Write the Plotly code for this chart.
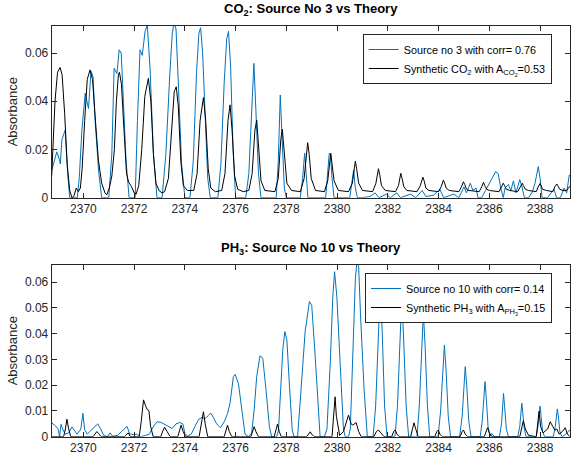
import plotly.graph_objects as go

# ---------------- data ----------------
x_ticks = [2370, 2372, 2374, 2376, 2378, 2380, 2382, 2384, 2386, 2388]
x_range = [2368.75, 2389.18]
top_yticks = [0, 0.02, 0.04, 0.06]
top_yticktext = ["0", "0.02", "0.04", "0.06"]
bot_yticks = [0, 0.01, 0.02, 0.03, 0.04, 0.05, 0.06]
bot_yticktext = ["0", "0.01", "0.02", "0.03", "0.04", "0.05", "0.06"]

co2_src = [(2368.75,0.0112),(2368.95,0.019),(2369.05,0.016),(2369.09,0.014),(2369.15,0.024),(2369.28,0.028),
 (2369.38,0.010),(2369.46,0.0),(2369.76,0.0),(2369.84,0.0087),(2369.94,0.028),(2370.07,0.0433),(2370.2,0.037),
 (2370.3,0.0525),(2370.38,0.05),(2370.46,0.032),(2370.6,0.011),(2370.72,0.0),(2371.0,0.0),(2371.12,0.0184),
 (2371.21,0.0537),(2371.32,0.0515),(2371.41,0.0613),(2371.49,0.060),(2371.58,0.039),(2371.68,0.0156),(2371.8,0.0),
 (2372.04,0.0),(2372.13,0.032),(2372.23,0.0613),(2372.32,0.059),(2372.43,0.069),(2372.52,0.0715),(2372.63,0.053),
 (2372.76,0.018),(2372.9,0.0),(2373.1,0.0),(2373.25,0.018),(2373.4,0.05),(2373.5,0.068),(2373.57,0.0725),
 (2373.65,0.070),(2373.75,0.045),(2373.87,0.014),(2374.0,0.0),(2374.2,0.0),(2374.33,0.015),(2374.46,0.052),
 (2374.55,0.068),(2374.62,0.0705),(2374.7,0.06),(2374.8,0.03),(2374.9,0.008),(2375.0,0.0),(2375.3,0.0),
 (2375.42,0.014),(2375.55,0.048),(2375.65,0.066),(2375.72,0.069),(2375.8,0.055),(2375.9,0.02),(2376.0,0.0),
 (2376.4,0.0),(2376.52,0.01),(2376.63,0.032),(2376.72,0.0557),(2376.8,0.036),(2376.9,0.01),(2377.0,0.0),
 (2377.6,0.0),(2377.68,0.015),(2377.76,0.0426),(2377.83,0.025),(2377.92,0.004),(2378.0,0.0),(2378.55,0.0),
 (2378.64,0.008),(2378.72,0.0184),(2378.78,0.01),(2378.85,0.0),(2379.55,0.0),(2379.63,0.01),(2379.69,0.0184),
 (2379.74,0.018),(2379.8,0.008),(2379.88,0.0),(2380.5,0.0),(2380.59,0.007),(2380.65,0.0115),(2380.72,0.004),
 (2380.8,0.0),(2381.0,0.0),(2381.3,0.0005),(2381.5,0.002),(2381.65,0.0),(2381.95,0.0015),(2382.1,0.0),
 (2382.35,0.002),(2382.5,0.0),(2382.9,0.0015),(2383.1,0.0),(2383.35,0.003),(2383.5,0.0005),(2383.8,0.001),
 (2384.05,0.0035),(2384.2,0.0),(2384.6,0.0015),(2384.8,0.0),(2385.0,0.0045),(2385.1,0.002),(2385.25,0.006),
 (2385.35,0.003),(2385.48,0.004),(2385.55,0.0),(2385.7,0.0),(2385.85,0.003),(2386.0,0.006),(2386.15,0.009),
 (2386.25,0.0108),(2386.35,0.010),(2386.45,0.004),(2386.55,0.0),(2386.62,0.004),(2386.75,0.0055),(2386.85,0.003),
 (2386.95,0.007),(2387.05,0.002),(2387.2,0.0075),(2387.3,0.004),(2387.38,0.0),(2387.55,0.0),(2387.7,0.0025),
 (2387.8,0.006),(2387.93,0.0129),(2388.0,0.008),(2388.08,0.0),(2388.3,0.0),(2388.4,0.0015),(2388.55,0.0035),
 (2388.65,0.0),(2388.8,0.0),(2388.95,0.004),(2389.05,0.002),(2389.15,0.0094),(2389.2,0.009)]

co2_syn = [(2368.75,0.009),(2368.82,0.025),(2368.88,0.04),(2368.98,0.052),(2369.08,0.054),(2369.16,0.051),
 (2369.26,0.035),(2369.36,0.014),(2369.46,0.003),(2369.55,0.0),(2369.62,0.0005),(2369.72,0.004),(2369.8,0.0025),
 (2369.88,0.004),(2369.95,0.012),(2370.05,0.032),(2370.15,0.049),(2370.26,0.053),(2370.36,0.049),(2370.46,0.034),
 (2370.59,0.0156),(2370.72,0.006),(2370.85,0.002),(2370.92,0.0012),(2371.02,0.004),(2371.12,0.009),(2371.22,0.02),
 (2371.3,0.04),(2371.38,0.051),(2371.42,0.052),(2371.5,0.047),(2371.6,0.028),(2371.7,0.01),(2371.78,0.0065),
 (2371.9,0.0045),(2372.0,0.002),(2372.08,0.0015),(2372.18,0.005),(2372.3,0.02),(2372.42,0.042),(2372.56,0.0495),
 (2372.66,0.04),(2372.76,0.018),(2372.86,0.006),(2372.98,0.003),(2373.1,0.002),(2373.2,0.0025),(2373.35,0.008),
 (2373.47,0.028),(2373.58,0.044),(2373.66,0.046),(2373.74,0.038),(2373.84,0.015),(2373.94,0.005),(2374.1,0.003),
 (2374.35,0.003),(2374.48,0.01),(2374.6,0.032),(2374.73,0.0415),(2374.82,0.032),(2374.92,0.012),(2375.02,0.004),
 (2375.2,0.0025),(2375.45,0.003),(2375.58,0.01),(2375.7,0.032),(2375.78,0.0385),(2375.86,0.028),(2375.96,0.009),
 (2376.08,0.0035),(2376.3,0.0025),(2376.52,0.003),(2376.65,0.01),(2376.76,0.028),(2376.83,0.0322),(2376.9,0.022),
 (2377.0,0.007),(2377.15,0.003),(2377.55,0.0025),(2377.68,0.008),(2377.78,0.024),(2377.84,0.0284),(2377.92,0.017),
 (2378.02,0.006),(2378.2,0.003),(2378.55,0.0025),(2378.7,0.008),(2378.78,0.018),(2378.84,0.0228),(2378.9,0.018),
 (2378.98,0.008),(2379.15,0.003),(2379.5,0.0025),(2379.63,0.007),(2379.7,0.014),(2379.75,0.0184),(2379.8,0.014),
 (2379.88,0.007),(2380.05,0.003),(2380.45,0.0025),(2380.6,0.006),(2380.67,0.012),(2380.72,0.0152),(2380.77,0.012),
 (2380.85,0.006),(2381.0,0.003),(2381.4,0.0025),(2381.53,0.006),(2381.59,0.010),(2381.63,0.012),(2381.68,0.0095),
 (2381.75,0.005),(2381.9,0.003),(2382.3,0.0025),(2382.42,0.005),(2382.47,0.0085),(2382.51,0.0101),(2382.56,0.008),
 (2382.63,0.0045),(2382.75,0.003),(2383.15,0.0025),(2383.28,0.005),(2383.34,0.0075),(2383.38,0.0085),(2383.43,0.007),
 (2383.5,0.004),(2383.62,0.003),(2384.0,0.0025),(2384.1,0.0045),(2384.15,0.0065),(2384.19,0.0073),(2384.24,0.006),
 (2384.3,0.004),(2384.42,0.003),(2384.8,0.0025),(2384.9,0.0045),(2384.94,0.006),(2384.98,0.0066),(2385.03,0.0055),
 (2385.1,0.0035),(2385.2,0.003),(2385.6,0.0025),(2385.7,0.0045),(2385.74,0.0058),(2385.77,0.0064),(2385.82,0.005),
 (2385.9,0.0035),(2386.0,0.003),(2386.38,0.0025),(2386.48,0.0045),(2386.52,0.0055),(2386.55,0.006),(2386.6,0.005),
 (2386.67,0.0035),(2386.8,0.003),(2387.12,0.0025),(2387.22,0.0045),(2387.26,0.0055),(2387.3,0.006),(2387.34,0.005),
 (2387.42,0.0035),(2387.55,0.003),(2387.85,0.0025),(2387.93,0.0045),(2387.97,0.0055),(2388.0,0.0059),(2388.04,0.005),
 (2388.1,0.0035),(2388.25,0.003),(2388.5,0.0025),(2388.58,0.0045),(2388.62,0.0052),(2388.66,0.0057),(2388.7,0.005),
 (2388.77,0.0035),(2388.9,0.003),(2389.05,0.003),(2389.12,0.004),(2389.2,0.005)]

ph3_src = [(2368.75,0.0054),(2368.9,0.0042),(2369.0,0.003),(2369.06,0.0),(2369.12,0.0048),(2369.18,0.003),
 (2369.28,0.001),(2369.42,0.0015),(2369.55,0.0038),(2369.65,0.0022),(2369.75,0.001),(2369.9,0.003),(2369.98,0.0091),
 (2370.05,0.0027),(2370.15,0.001),(2370.3,0.0025),(2370.45,0.004),(2370.57,0.005),(2370.68,0.003),(2370.8,0.0005),
 (2370.95,0.0),(2371.05,0.0015),(2371.15,0.0002),(2371.35,0.0005),(2371.5,0.002),(2371.65,0.0035),(2371.72,0.004),
 (2371.82,0.0012),(2371.95,0.0008),(2372.1,0.001),(2372.25,0.0),(2372.45,0.0005),(2372.6,0.001),(2372.75,0.0038),
 (2372.9,0.0058),(2373.05,0.0056),(2373.2,0.0048),(2373.35,0.004),(2373.5,0.0032),(2373.65,0.005),(2373.8,0.0055),
 (2373.92,0.005),(2374.0,0.0012),(2374.1,0.0002),(2374.25,0.001),(2374.4,0.004),(2374.55,0.0068),(2374.68,0.0075),
 (2374.8,0.007),(2374.92,0.0082),(2375.02,0.0092),(2375.12,0.0075),(2375.25,0.005),(2375.4,0.0035),(2375.55,0.0058),
 (2375.68,0.009),(2375.78,0.013),(2375.91,0.0233),(2375.98,0.0242),(2376.11,0.0207),(2376.24,0.0104),(2376.37,0.001),
 (2376.5,0.0),(2376.63,0.0014),(2376.73,0.0104),(2376.83,0.0233),(2376.96,0.0314),(2377.07,0.0305),(2377.2,0.018),
 (2377.33,0.004),(2377.42,0.0),(2377.62,0.0),(2377.69,0.0026),(2377.78,0.018),(2377.86,0.034),(2377.94,0.0408),
 (2378.02,0.0376),(2378.12,0.02),(2378.23,0.0026),(2378.3,0.0),(2378.44,0.0),(2378.54,0.013),(2378.74,0.0408),
 (2378.91,0.0525),(2379.0,0.051),(2379.13,0.0321),(2379.26,0.0078),(2379.33,0.0),(2379.5,0.0),(2379.6,0.003),
 (2379.73,0.0285),(2379.83,0.0544),(2379.9,0.0641),(2379.99,0.0544),(2380.12,0.0285),(2380.25,0.003),(2380.32,0.0),
 (2380.45,0.0),(2380.52,0.003),(2380.62,0.03),(2380.72,0.0612),(2380.79,0.069),(2380.85,0.066),(2380.92,0.048),
 (2381.06,0.019),(2381.19,0.0),(2381.42,0.0),(2381.52,0.012),(2381.62,0.038),(2381.7,0.058),(2381.78,0.04),
 (2381.87,0.012),(2381.97,0.0),(2382.28,0.0),(2382.38,0.012),(2382.47,0.036),(2382.55,0.055),(2382.63,0.036),
 (2382.72,0.012),(2382.82,0.0),(2383.15,0.0),(2383.24,0.012),(2383.33,0.035),(2383.4,0.048),(2383.47,0.035),
 (2383.56,0.012),(2383.65,0.0),(2383.98,0.0),(2384.08,0.01),(2384.17,0.028),(2384.23,0.0356),(2384.3,0.025),
 (2384.38,0.008),(2384.47,0.0),(2384.83,0.0),(2384.93,0.008),(2385.0,0.02),(2385.05,0.0272),(2385.11,0.02),
 (2385.19,0.006),(2385.28,0.0),(2385.64,0.0),(2385.72,0.006),(2385.79,0.016),(2385.83,0.0214),(2385.88,0.015),
 (2385.95,0.004),(2386.03,0.0),(2386.1,0.0012),(2386.2,0.0),(2386.4,0.0),(2386.48,0.005),(2386.53,0.013),
 (2386.56,0.0168),(2386.6,0.012),(2386.67,0.003),(2386.75,0.0),(2387.12,0.0),(2387.2,0.004),(2387.25,0.01),
 (2387.28,0.013),(2387.32,0.009),(2387.38,0.003),(2387.45,0.0),(2387.85,0.0),(2387.92,0.004),(2387.97,0.009),
 (2388.0,0.0119),(2388.04,0.008),(2388.1,0.002),(2388.18,0.0),(2388.52,0.0),(2388.6,0.004),(2388.65,0.009),
 (2388.68,0.0108),(2388.72,0.008),(2388.78,0.002),(2388.86,0.0),(2389.0,0.0008),(2389.1,0.002),(2389.18,0.0026)]

ph3_syn = [(2368.75,0.0),(2369.22,0.0),(2369.29,0.003),(2369.35,0.0068),(2369.42,0.003),(2369.5,0.0),
 (2370.38,0.0),(2370.47,0.0015),(2370.53,0.002),(2370.6,0.0012),(2370.7,0.0),(2371.62,0.0),(2371.72,0.0012),
 (2371.77,0.0015),(2371.85,0.0),(2372.2,0.0),(2372.28,0.006),(2372.37,0.0143),(2372.45,0.012),(2372.52,0.0105),
 (2372.58,0.0102),(2372.65,0.004),(2372.75,0.0),(2373.05,0.0),(2373.14,0.0025),(2373.2,0.0037),(2373.3,0.002),
 (2373.42,0.0),(2373.72,0.0),(2373.8,0.003),(2373.85,0.0045),(2373.93,0.002),(2374.03,0.0),(2374.56,0.0),
 (2374.65,0.005),(2374.73,0.0097),(2374.8,0.005),(2374.9,0.0),(2375.55,0.0),(2375.63,0.003),(2375.68,0.0045),
 (2375.75,0.002),(2375.85,0.0),(2376.6,0.0),(2376.68,0.0025),(2376.73,0.0039),(2376.8,0.002),(2376.9,0.0),
 (2377.52,0.0),(2377.6,0.003),(2377.65,0.0049),(2377.72,0.002),(2377.8,0.0),(2378.8,0.0),(2378.89,0.0015),
 (2378.94,0.0019),(2379.0,0.001),(2379.1,0.0),(2379.8,0.0),(2379.87,0.008),(2379.92,0.0155),(2379.97,0.008),
 (2380.05,0.002),(2380.1,0.0005),(2380.25,0.002),(2380.35,0.005),(2380.45,0.0084),(2380.55,0.005),(2380.62,0.0045),
 (2380.75,0.0055),(2380.85,0.002),(2380.95,0.0),(2381.45,0.0),(2381.55,0.002),(2381.63,0.0026),(2381.72,0.0015),
 (2381.85,0.0),(2382.15,0.0),(2382.23,0.002),(2382.29,0.0026),(2382.36,0.001),(2382.45,0.0),(2382.9,0.0),
 (2382.97,0.003),(2383.03,0.0054),(2383.1,0.003),(2383.2,0.0),(2383.85,0.0),(2383.93,0.002),(2383.99,0.0026),
 (2384.05,0.001),(2384.15,0.0),(2384.85,0.0),(2384.93,0.002),(2384.98,0.0026),(2385.05,0.001),(2385.15,0.0),
 (2385.8,0.0),(2385.88,0.002),(2385.93,0.0035),(2386.0,0.0015),(2386.1,0.0),(2387.2,0.0),(2387.28,0.004),
 (2387.34,0.0062),(2387.42,0.003),(2387.55,0.0005),(2387.85,0.0),(2387.92,0.006),(2387.96,0.0099),(2388.02,0.004),
 (2388.12,0.0015),(2388.3,0.003),(2388.4,0.0058),(2388.5,0.004),(2388.58,0.0025),(2388.66,0.003),(2388.75,0.001),
 (2388.88,0.002),(2388.99,0.0035),(2389.08,0.001),(2389.18,0.0)]

co2_src_name = "Source no 3 with corr= 0.76"
co2_syn_name = "Synthetic CO<sub>2</sub> with A<sub>CO<sub>2</sub></sub>=0.53"
ph3_src_name = "Source no 10 with corr= 0.14"
ph3_syn_name = "Synthetic PH<sub>3</sub> with A<sub>PH<sub>3</sub></sub>=0.15"
title_top = "<b>CO<sub>2</sub>: Source No 3 vs Theory</b>"
title_bot = "<b>PH<sub>3</sub>: Source No 10 vs Theory</b>"

# ---------------- figure ----------------
BLUE = "#0072BD"
AX = "#262626"
FONT = "Liberation Sans, Arial, Helvetica, sans-serif"
W, H = 572, 459

def xs(p):
    return [a for a, b in p]

def ys(p):
    return [b for a, b in p]

fig = go.Figure()
fig.add_trace(go.Scatter(x=xs(co2_src), y=ys(co2_src), mode="lines", name=co2_src_name,
                         line=dict(color=BLUE, width=1), xaxis="x", yaxis="y", legend="legend"))
fig.add_trace(go.Scatter(x=xs(co2_syn), y=ys(co2_syn), mode="lines", name=co2_syn_name,
                         line=dict(color="black", width=1), xaxis="x", yaxis="y", legend="legend"))
fig.add_trace(go.Scatter(x=xs(ph3_src), y=ys(ph3_src), mode="lines", name=ph3_src_name,
                         line=dict(color=BLUE, width=1), xaxis="x2", yaxis="y2", legend="legend2"))
fig.add_trace(go.Scatter(x=xs(ph3_syn), y=ys(ph3_syn), mode="lines", name=ph3_syn_name,
                         line=dict(color="black", width=1), xaxis="x2", yaxis="y2", legend="legend2"))

x_dom = [51.7 / W, 570 / W]
y1_dom = [1 - 197.7 / H, 1 - 26 / H]
y2_dom = [1 - 436.7 / H, 1 - 265 / H]

axis_common = dict(showline=True, linecolor=AX, linewidth=1, mirror="ticks", ticks="inside",
                   ticklen=5, tickwidth=1, tickcolor=AX, showgrid=False, zeroline=False,
                   automargin=False, tickfont=dict(family=FONT, size=12, color=AX))

fig.update_layout(
    width=W, height=H,
    margin=dict(l=0, r=0, t=0, b=0, pad=0, autoexpand=False),
    paper_bgcolor="white", plot_bgcolor="white",
    font=dict(family=FONT, color=AX),
    xaxis=dict(domain=x_dom, range=x_range, tickvals=x_ticks, anchor="y", **axis_common),
    yaxis=dict(domain=y1_dom, range=[0, 0.0712], tickvals=top_yticks, ticktext=top_yticktext,
               anchor="x", **axis_common),
    xaxis2=dict(domain=x_dom, range=x_range, tickvals=x_ticks, anchor="y2", **axis_common),
    yaxis2=dict(domain=y2_dom, range=[0, 0.0667], tickvals=bot_yticks, ticktext=bot_yticktext,
                anchor="x2", **axis_common),
    legend=dict(x=362.7 / W, y=1 - 34 / H, xanchor="left", yanchor="top",
                bgcolor="white", bordercolor=AX, borderwidth=1,
                font=dict(family=FONT, size=10.8, color="black"), tracegroupgap=0),
    legend2=dict(x=365 / W, y=1 - 273 / H, xanchor="left", yanchor="top",
                 bgcolor="white", bordercolor=AX, borderwidth=1,
                 font=dict(family=FONT, size=10.8, color="black"), tracegroupgap=0),
    showlegend=True,
)

ann_font_title = dict(family=FONT, size=13, color="black")
ann_font_label = dict(family=FONT, size=13, color=AX)
xc = (x_dom[0] + x_dom[1]) / 2
fig.add_annotation(text=title_top, x=xc, y=1 - 10 / H, xref="paper", yref="paper",
                   showarrow=False, xanchor="center", yanchor="middle", font=ann_font_title)
fig.add_annotation(text=title_bot, x=xc, y=1 - 249 / H, xref="paper", yref="paper",
                   showarrow=False, xanchor="center", yanchor="middle", font=ann_font_title)
fig.add_annotation(text="Absorbance", x=12.5 / W, y=(y1_dom[0] + y1_dom[1]) / 2, xref="paper",
                   yref="paper", showarrow=False, textangle=-90, xanchor="center",
                   yanchor="middle", font=ann_font_label)
fig.add_annotation(text="Absorbance", x=12.5 / W, y=(y2_dom[0] + y2_dom[1]) / 2, xref="paper",
                   yref="paper", showarrow=False, textangle=-90, xanchor="center",
                   yanchor="middle", font=ann_font_label)

fig.write_html("out.html", config={"displayModeBar": False},
               post_script="document.body.style.margin='0px';document.body.style.overflow='hidden';")
